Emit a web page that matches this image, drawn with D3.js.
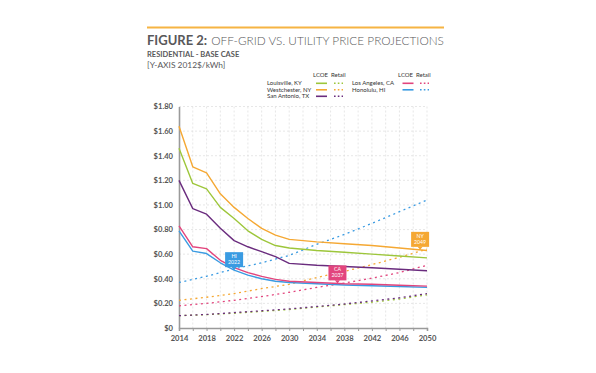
<!DOCTYPE html>
<html>
<head>
<meta charset="utf-8">
<script src="https://cdn.jsdelivr.net/npm/d3@7"></script>
<style>
  body { margin: 0; background: #fff; }
  svg { display: block; font-family: Lato, "Open Sans", sans-serif; }
</style>
</head>
<body>
<svg id="chart" width="596" height="373"></svg>
<script>
// LCOE (off-grid) series, solid lines
var lcoeYears = [2014, 2016, 2018, 2020, 2022, 2024, 2026, 2028, 2030, 2034, 2038, 2042, 2046, 2050];
var kyLcoe = [1.46, 1.175, 1.13, 0.98, 0.89, 0.79, 0.72, 0.67, 0.65, 0.63, 0.615, 0.60, 0.585, 0.57];
var nyLcoe = [1.64, 1.31, 1.26, 1.09, 0.98, 0.89, 0.81, 0.755, 0.72, 0.70, 0.685, 0.67, 0.65, 0.63];
var txLcoe = [1.20, 0.97, 0.925, 0.81, 0.71, 0.66, 0.62, 0.58, 0.525, 0.51, 0.50, 0.49, 0.478, 0.465];
var caLcoe = [0.83, 0.66, 0.645, 0.55, 0.49, 0.45, 0.42, 0.395, 0.38, 0.37, 0.36, 0.355, 0.348, 0.34];
var hiLcoe = [0.79, 0.625, 0.605, 0.53, 0.47, 0.43, 0.40, 0.38, 0.37, 0.36, 0.35, 0.343, 0.337, 0.33];

// Retail (utility) series, dotted lines
var retailYears = [2014, 2018, 2022, 2026, 2030, 2034, 2038, 2042, 2046, 2050];
var hiRetail = [0.37, 0.42, 0.48, 0.53, 0.59, 0.68, 0.76, 0.85, 0.945, 1.04];
var nyRetail = [0.225, 0.25, 0.28, 0.32, 0.355, 0.41, 0.46, 0.515, 0.575, 0.64];
var caRetail = [0.18, 0.20, 0.225, 0.255, 0.29, 0.33, 0.365, 0.405, 0.45, 0.51];
var txRetail = [0.10, 0.11, 0.125, 0.14, 0.155, 0.175, 0.195, 0.22, 0.245, 0.28];
var kyRetail = [0.10, 0.108, 0.12, 0.135, 0.15, 0.17, 0.19, 0.21, 0.235, 0.27];

var xTickLabels = [2014, 2018, 2022, 2026, 2030, 2034, 2038, 2042, 2046, 2050];
var yTickLabels = [0, 0.2, 0.4, 0.6, 0.8, 1.0, 1.2, 1.4, 1.6, 1.8];

// grid parity callouts
var calloutNames = ["HI", "CA", "NY"];
var calloutYears = [2022, 2037, 2049];

var colors = { ky: "#9dc63b", ny: "#f5a833", tx: "#6a2c7e", ca: "#e2457d", hi: "#3a9be2" };

var svg = d3.select("#chart");
var x = d3.scaleLinear().domain([2014, 2050]).range([179, 427]);
var y = d3.scaleLinear().domain([0, 1.8]).range([328, 106.5]);

// header
svg.append("line").attr("x1", 147).attr("x2", 444).attr("y1", 27.5).attr("y2", 27.5)
  .style("stroke", "#f6b443").style("stroke-width", 2);

// title in two pieces: bold label, then light text sized to end at the rule's end
var t1 = svg.append("text").attr("x", 147).attr("y", 45).text("FIGURE 2:")
  .style("font-size", "13px").style("font-weight", "bold").style("fill", "#58585a");
var w1 = t1.node().getComputedTextLength();
var t2x = 147 + w1 + 4;
var t2 = svg.append("text").attr("x", t2x).attr("y", 45).text("OFF-GRID VS. UTILITY PRICE PROJECTIONS")
  .style("font-size", "13px").style("font-weight", "300").style("fill", "#58585a");
var w2 = t2.node().getComputedTextLength();
t2.style("font-size", (13 * (444 - t2x) / w2) + "px");

svg.append("text").attr("x", 147).attr("y", 56.5).text("RESIDENTIAL - BASE CASE")
  .style("font-size", "7.5px").style("font-weight", "bold").style("fill", "#58585a");
svg.append("text").attr("x", 147).attr("y", 67.5).text("[Y-AXIS 2012$/kWh]")
  .style("font-size", "8.4px").style("fill", "#58585a");

// grid
var grid = svg.append("g").style("stroke", "#dcdcdc").style("stroke-width", 0.7)
  .style("stroke-dasharray", "2,2");
d3.range(2016, 2051, 2).forEach(function (yr) {
  grid.append("line").attr("x1", x(yr)).attr("x2", x(yr)).attr("y1", y(1.8)).attr("y2", y(0));
});
yTickLabels.slice(1).forEach(function (v) {
  grid.append("line").attr("x1", x(2014)).attr("x2", x(2050)).attr("y1", y(v)).attr("y2", y(v));
});

// axes
var xAxis = svg.append("g").attr("transform", "translate(0," + y(0) + ")")
  .call(d3.axisBottom(x).tickValues(d3.range(2014, 2051, 2)).tickSize(3)
    .tickFormat(function (d) { return xTickLabels.indexOf(d) >= 0 ? d : ""; }));
var yAxis = svg.append("g").attr("transform", "translate(" + x(2014) + ",0)")
  .call(d3.axisLeft(y).tickValues(yTickLabels).tickSize(0).tickPadding(6)
    .tickFormat(function (d) { return d === 0 ? "$0" : "$" + d3.format(".2f")(d); }));
[xAxis, yAxis].forEach(function (a) {
  a.select(".domain").style("stroke", "#9a9a9a").style("stroke-width", 1.6);
  a.selectAll(".tick line").style("stroke", "#9a9a9a").style("stroke-width", 1);
  a.selectAll("text").style("font-family", "Lato, sans-serif").style("font-size", "7.6px")
    .style("font-weight", "bold").style("fill", "#555");
});
xAxis.selectAll("text").attr("dy", "0.9em");

// lines
var line = d3.line().x(function (d) { return x(d[0]); }).y(function (d) { return y(d[1]); });
function appendSeries(years, vals, color, dotted) {
  svg.append("path").datum(d3.zip(years, vals)).attr("d", line)
    .style("fill", "none").style("stroke", color).style("stroke-width", dotted ? 1.3 : 1.4)
    .style("stroke-dasharray", dotted ? "2,3.5" : null)
    .style("stroke-linejoin", "round");
}
appendSeries(retailYears, kyRetail, colors.ky, true);
appendSeries(retailYears, txRetail, colors.tx, true);
appendSeries(retailYears, caRetail, colors.ca, true);
appendSeries(retailYears, nyRetail, colors.ny, true);
appendSeries(retailYears, hiRetail, colors.hi, true);
appendSeries(lcoeYears, nyLcoe, colors.ny, false);
appendSeries(lcoeYears, kyLcoe, colors.ky, false);
appendSeries(lcoeYears, txLcoe, colors.tx, false);
appendSeries(lcoeYears, hiLcoe, colors.hi, false);
appendSeries(lcoeYears, caLcoe, colors.ca, false);

// callouts
var calloutSeries = { HI: hiLcoe, CA: caLcoe, NY: nyLcoe };
calloutNames.forEach(function (name, i) {
  var yr = calloutYears[i];
  var v = d3.scaleLinear().domain(lcoeYears).range(calloutSeries[name])(yr);
  var cx = x(yr), cy = y(v);
  var col = colors[name.toLowerCase()];
  var g = svg.append("g").attr("transform", "translate(" + cx + "," + cy + ")");
  g.append("rect").attr("x", -9).attr("y", -18).attr("width", 18).attr("height", 15).style("fill", col);
  g.append("path").attr("d", "M-2.5,-3.2L0,0L2.5,-3.2Z").style("fill", col);
  g.append("text").attr("y", -12.3).attr("text-anchor", "middle").text(name)
    .style("font-size", "5.2px").style("fill", "#fff");
  g.append("text").attr("y", -6).attr("text-anchor", "middle").text(yr)
    .style("font-size", "5.2px").style("fill", "#fff");
});

// legend
var legend = svg.append("g").style("font-size", "6px").style("fill", "#333");
legend.append("text").attr("x", 313).attr("y", 77).text("LCOE");
legend.append("text").attr("x", 331).attr("y", 77).text("Retail");
legend.append("text").attr("x", 398).attr("y", 77).text("LCOE");
legend.append("text").attr("x", 416).attr("y", 77).text("Retail");
var legendRows = [
  ["Louisville, KY", colors.ky, 267, 316, 334, 0],
  ["Westchester, NY", colors.ny, 267, 316, 334, 1],
  ["San Antonio, TX", colors.tx, 267, 316, 334, 2],
  ["Los Angeles, CA", colors.ca, 352, 402.5, 420, 0],
  ["Honolulu, HI", colors.hi, 352, 402.5, 420, 1]
];
legendRows.forEach(function (r) {
  var ry = 83.3 + r[5] * 6.5;
  legend.append("text").attr("x", r[2]).attr("y", ry + 2).text(r[0]);
  legend.append("line").attr("x1", r[3]).attr("x2", r[3] + 11).attr("y1", ry).attr("y2", ry)
    .style("stroke", r[1]).style("stroke-width", 1.6);
  legend.append("line").attr("x1", r[4]).attr("x2", r[4] + 9).attr("y1", ry).attr("y2", ry)
    .style("stroke", r[1]).style("stroke-width", 1.6).style("stroke-dasharray", "1.6,2.2");
});
</script>
</body>
</html>
